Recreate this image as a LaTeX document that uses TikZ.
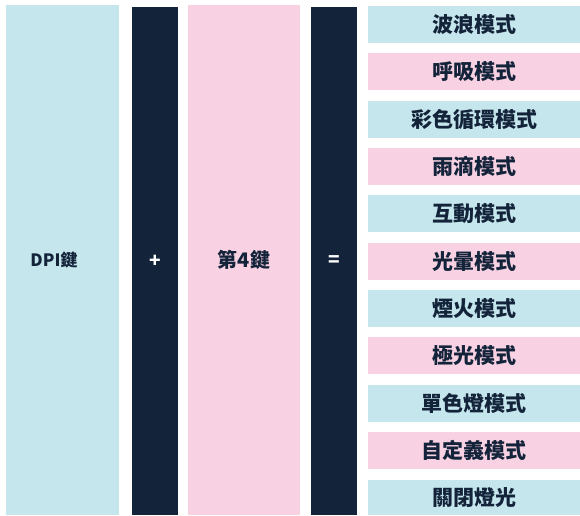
\documentclass[tikz,border=0pt]{standalone}
\usepackage{fontspec}
\setmainfont{Noto Sans CJK TC}
\definecolor{navy}{HTML}{13233A}
\definecolor{lblue}{HTML}{C4E6EC}
\definecolor{lpink}{HTML}{F8D2E3}
\tikzset{
  box/.style={anchor=north west, inner sep=0pt, outer sep=0pt, text=navy, font=\bfseries},
  bluebox/.style={box, fill=lblue},
  pinkbox/.style={box, fill=lpink},
  darkbox/.style={box, fill=navy, text=white},
  mode/.style={minimum width=212pt, minimum height=37pt, font=\bfseries\fontsize{21}{23}\selectfont},
}
\begin{document}
\begin{tikzpicture}[x=1pt,y=-1pt]
\useasboundingbox (0,0) rectangle (580,515);
\node[bluebox, minimum width=113pt, minimum height=510pt] (dpi) at (6,5) {};
\node[text=navy, font=\bfseries\fontsize{17}{19}\selectfont, inner sep=0pt] (dpitext) at (54,260) {DPI鍵};
\node[darkbox, minimum width=46pt, minimum height=508pt, font=\bfseries\fontsize{19}{21}\selectfont] (plus) at (132,7) {+};
\node[pinkbox, minimum width=112pt, minimum height=510pt, font=\bfseries\fontsize{20}{22}\selectfont] (key4) at (188,5) {第4鍵};
\node[darkbox, minimum width=46pt, minimum height=508pt, font=\bfseries\fontsize{19}{21}\selectfont] (eq) at (311,7) {=};
\node[bluebox, mode] (m1) at (368,6) {波浪模式};
\node[pinkbox, mode] (m2) at (368,53.35) {呼吸模式};
\node[bluebox, mode] (m3) at (368,100.7) {彩色循環模式};
\node[pinkbox, mode] (m4) at (368,148.05) {雨滴模式};
\node[bluebox, mode] (m5) at (368,195.4) {互動模式};
\node[pinkbox, mode] (m6) at (368,242.75) {光暈模式};
\node[bluebox, mode] (m7) at (368,290.1) {煙火模式};
\node[pinkbox, mode] (m8) at (368,337.45) {極光模式};
\node[bluebox, mode] (m9) at (368,384.8) {單色燈模式};
\node[pinkbox, mode] (m10) at (368,432.15) {自定義模式};
\node[bluebox, mode, minimum height=35.5pt] (m11) at (368,479.5) {關閉燈光};
\end{tikzpicture}
\end{document}
